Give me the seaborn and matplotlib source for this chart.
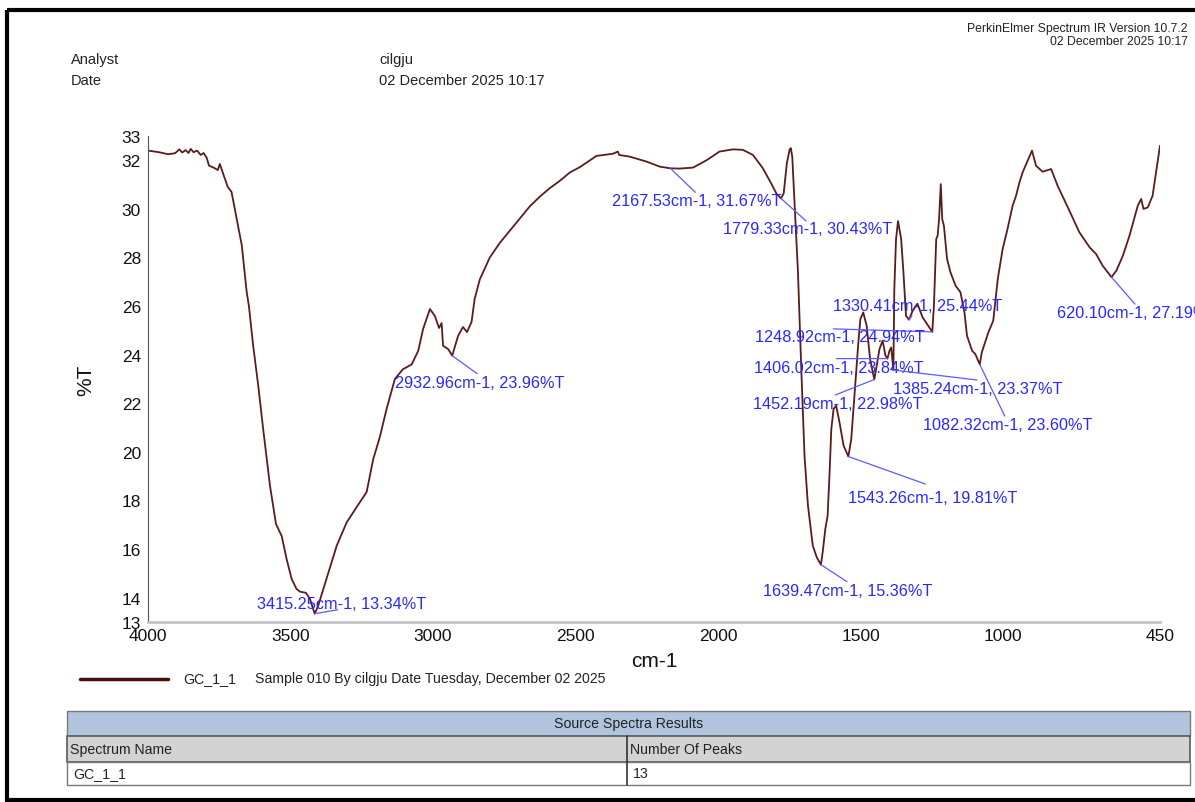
import matplotlib
matplotlib.use("Agg")
import matplotlib.pyplot as plt
from matplotlib.patches import Rectangle
import pandas as pd
import seaborn as sns

# spectrum (cm-1, %T)
wavenumber = [
    4000, 3960, 3930, 3905, 3890, 3880, 3868, 3858, 3850, 3840, 3828, 3815,
    3805, 3794, 3786, 3770, 3755, 3748, 3735, 3720, 3707, 3689, 3671, 3654,
    3646, 3631, 3613, 3596, 3572, 3551, 3531, 3514, 3496, 3479, 3467, 3446,
    3432, 3415.25, 3403, 3374, 3338, 3303, 3268, 3233, 3210, 3187, 3163, 3134,
    3106, 3075, 3052, 3035, 3011, 2994, 2979, 2970, 2965, 2947, 2932.96, 2912,
    2895, 2881, 2865, 2854, 2836, 2801, 2766, 2731, 2696, 2661, 2626, 2591,
    2556, 2520, 2485, 2427, 2369, 2352, 2347, 2310, 2252, 2205, 2167.53, 2135,
    2088, 2041, 1995, 1948, 1913, 1878, 1843, 1814, 1796, 1779.33, 1770, 1759,
    1749, 1745, 1740, 1734, 1720, 1708, 1697, 1685, 1668, 1654, 1639.47, 1633,
    1624, 1616, 1609, 1603, 1595, 1586, 1574, 1560, 1543.26, 1533, 1521, 1509,
    1501, 1491, 1479, 1467, 1452.19, 1444, 1434, 1423, 1413, 1406.02, 1399,
    1393, 1385.24, 1382, 1376, 1369, 1358, 1350, 1341, 1330.41, 1318, 1301,
    1283, 1248.92, 1243, 1235, 1230, 1225, 1219, 1214, 1208, 1197, 1185, 1167,
    1150, 1136, 1127, 1109, 1098, 1082.32, 1075, 1052, 1035, 1019, 1002, 985,
    967, 955, 943, 932, 899, 885, 862, 832, 809, 768, 733, 697, 674, 651,
    620.10, 603, 580, 557, 539, 528, 516, 508, 493, 476, 464, 452, 450,
]
transmittance = [
    32.40, 32.33, 32.25, 32.29, 32.45, 32.32, 32.42, 32.30, 32.47, 32.33, 32.40, 32.22,
    32.30, 32.10, 31.78, 31.70, 31.60, 31.85, 31.40, 30.90, 30.70, 29.60, 28.50, 26.60,
    26.00, 24.36, 22.70, 20.94, 18.60, 17.03, 16.54, 15.60, 14.77, 14.36, 14.25, 14.20,
    13.95, 13.34, 13.67, 14.77, 16.14, 17.10, 17.73, 18.35, 19.70, 20.60, 21.77, 23.00,
    23.40, 23.60, 24.16, 25.06, 25.88, 25.60, 25.10, 25.30, 24.37, 24.23, 23.96, 24.78,
    25.14, 24.93, 25.35, 26.30, 27.10, 28.00, 28.60, 29.10, 29.60, 30.10, 30.50, 30.85,
    31.15, 31.50, 31.72, 32.18, 32.27, 32.36, 32.22, 32.15, 31.95, 31.74, 31.67, 31.66,
    31.70, 32.00, 32.36, 32.45, 32.43, 32.22, 31.67, 31.05, 30.64, 30.43, 30.64, 31.88,
    32.45, 32.50, 32.15, 30.70, 27.40, 23.30, 19.84, 17.80, 16.14, 15.66, 15.36, 15.90,
    16.83, 17.37, 19.16, 20.94, 21.77, 21.90, 21.20, 20.26, 19.81, 20.53, 22.45, 24.37,
    25.47, 25.74, 25.19, 23.82, 22.98, 23.55, 24.23, 24.58, 23.96, 23.84, 24.16,
    24.30, 23.37, 26.70, 28.76, 29.50, 28.76, 27.39, 25.60, 25.44, 25.80, 26.10,
    25.54, 24.94, 26.02, 28.76, 28.90, 29.58, 31.02, 29.58, 29.31, 27.94, 27.39, 26.84,
    26.57, 25.74, 24.78, 24.16, 24.03, 23.60, 24.10, 24.92, 25.40, 27.12, 28.35, 29.17,
    30.13, 30.54, 31.09, 31.50, 32.40, 31.78, 31.53, 31.64, 30.95, 29.93, 29.04, 28.42, 28.14, 27.66,
    27.19, 27.46, 28.08, 28.90, 29.66, 30.13, 30.41, 30.00, 30.06, 30.54, 31.50, 32.47, 32.60,
]

peak_wn = [3415.25, 2932.96, 2167.53, 1779.33, 1639.47, 1543.26, 1452.19,
           1406.02, 1385.24, 1330.41, 1248.92, 1082.32, 620.10]
peak_t = [13.34, 23.96, 31.67, 30.43, 15.36, 19.81, 22.98,
          23.84, 23.37, 25.44, 24.94, 23.60, 27.19]

# label placement in pixels from the peak: text (left, middle) and leader end
text_offset = [(-58, 10.7), (-57, -26.6), (-58.7, -32.4), (-58, -29.8), (-57.6, -26),
               (0, -40.8), (-121, -24.5), (-133, -8.7), (0, -18.3), (-76.3, 14),
               (-177, -4.4), (-56.4, -59.6), (-54.8, -35)]
line_offset = [(23, 4), (25, -18), (25, -24), (25, -22.5), (26, -17),
               (77, -27.5), (-39, -15.5), (-51, 0), (83.6, -10), (3, 4),
               (-99, 3), (25, -51.6), (23.5, -27)]

x_ticks = [4000, 3500, 3000, 2500, 2000, 1500, 1000, 500, 450]
x_tick_labels = ["4000", "3500", "3000", "2500", "2000", "1500", "1000", "", "450"]
y_ticks = [13, 14, 16, 18, 20, 22, 24, 26, 28, 30, 32, 33]

sample_name = "GC_1_1"
sample_info = "Sample 010 By cilgju Date Tuesday, December 02 2025"
header_keys = ["Analyst", "Date"]
header_values = ["cilgju", "02 December 2025 10:17"]
software_lines = ["PerkinElmer Spectrum IR Version 10.7.2", "02 December 2025 10:17"]
table_title = "Source Spectra Results"
table_columns = ["Spectrum Name", "Number Of Peaks"]
table_rows = [[sample_name, str(len(peak_wn))]]

line_color = "#5a1c1c"
label_color = "#2828ff"
leader_color = "#5a5aff"

sns.set_theme(style="white")
plt.rcParams["font.family"] = ["Liberation Sans", "DejaVu Sans"]

fig = plt.figure(figsize=(11.95, 8.03), dpi=100)

# page layer in pixel units for the report furniture
page = fig.add_axes([0, 0, 1, 1])
page.set_xlim(0, 1195)
page.set_ylim(803, 0)
page.axis("off")

page.add_patch(Rectangle((7, 11), 1200, 790, fill=False, edgecolor="black", lw=3))

for i, (key, value) in enumerate(zip(header_keys, header_values)):
    page.text(71, 60 + i * 21, key, fontsize=10.5, va="center", color="#222222")
    page.text(379, 60 + i * 21, value, fontsize=10.5, va="center", color="#222222")

for i, line in enumerate(software_lines):
    page.text(1188, 29 + i * 13, line, fontsize=8.8, ha="right", va="center", color="#222222")

# legend
page.plot([80, 168], [680, 680], color="#4a0c0c", lw=2.5)
page.text(183, 679, sample_name, fontsize=10.2, va="center", color="#222222")
page.text(255, 679, sample_info, fontsize=10.2, va="center", color="#222222")

# results table
t_left, t_right, t_split = 67, 1190, 627
row_edges = [712, 737, 763, 786]
page.add_patch(Rectangle((t_left, row_edges[0]), t_right - t_left, row_edges[1] - row_edges[0],
                         facecolor="#b0c4de", edgecolor="#7a7a7a", lw=1))
page.add_patch(Rectangle((t_left, row_edges[1]), t_right - t_left, row_edges[2] - row_edges[1],
                         facecolor="#d3d3d3", edgecolor="#5a5a5a", lw=1.2))
page.add_patch(Rectangle((t_left, row_edges[2]), t_right - t_left, row_edges[3] - row_edges[2],
                         facecolor="white", edgecolor="#7a7a7a", lw=1))
page.plot([t_split, t_split], [row_edges[1], row_edges[3]], color="#333333", lw=1.2)
page.text((t_left + t_right) / 2, (row_edges[0] + row_edges[1]) / 2, table_title,
          fontsize=10.2, ha="center", va="center", color="#222222")
for col, name in enumerate(table_columns):
    x0 = (t_left if col == 0 else t_split) + 3
    page.text(x0, (row_edges[1] + row_edges[2]) / 2, name, fontsize=10.2, va="center", color="#222222")
for r, row in enumerate(table_rows):
    for col, cell in enumerate(row):
        x0 = (t_left if col == 0 else t_split) + 6
        page.text(x0, (row_edges[2 + r] + row_edges[3 + r]) / 2, cell, fontsize=10.2,
                  va="center", color="#222222")

# spectrum
ax = fig.add_axes([148 / 1195, 1 - 623 / 803, 1012 / 1195, 486 / 803])
spectrum_df = pd.DataFrame({"cm-1": wavenumber, "%T": transmittance})
sns.lineplot(data=spectrum_df, x="cm-1", y="%T", color=line_color, lw=1.3,
             sort=False, estimator=None, ax=ax)
ax.set_xlim(4000, 450)
ax.set_ylim(13, 33)
ax.set_facecolor("none")
sns.despine(ax=ax)
ax.spines["left"].set_color("#555555")
ax.spines["left"].set_linewidth(0.8)
ax.spines["bottom"].set_color("#c4c4c4")
ax.spines["bottom"].set_linewidth(2)

ax.set_xticks(x_ticks)
ax.set_xticklabels(x_tick_labels)
ax.set_yticks(y_ticks)
ax.set_yticklabels([str(v) for v in y_ticks])
ax.tick_params(axis="both", direction="out", length=4, width=0.8, color="#666666",
               labelsize=12.5, labelcolor="#111111")
ax.tick_params(axis="x", pad=0)
ax.tick_params(axis="y", pad=1)
ax.set_xlabel("cm-1", fontsize=15, labelpad=6, color="#111111")
ax.set_ylabel("%T", fontsize=15, labelpad=19, color="#111111")

for wn, t, (tx, ty), (lx, ly) in zip(peak_wn, peak_t, text_offset, line_offset):
    ax.annotate("", xy=(wn, t), xytext=(lx, ly), textcoords="offset pixels",
                arrowprops=dict(arrowstyle="-", color=leader_color, lw=0.9,
                                shrinkA=0, shrinkB=0))
    ax.annotate(f"{wn:.2f}cm-1, {t:.2f}%T", xy=(wn, t), xytext=(tx, ty),
                textcoords="offset pixels", ha="left", va="center",
                fontsize=11.7, color=label_color, annotation_clip=False)

fig.savefig("out.png", dpi=100)
print("saved: out.png")
